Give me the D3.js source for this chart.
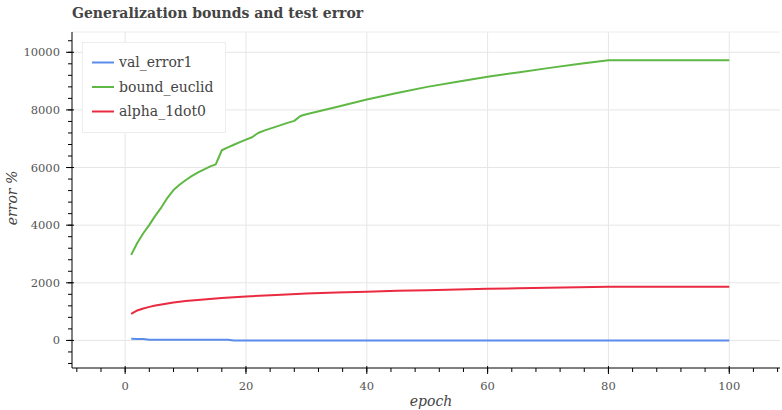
<!DOCTYPE html>
<html>
<head>
<meta charset="utf-8">
<script src="https://cdn.jsdelivr.net/npm/d3@7"></script>
<style>
  body { margin: 0; background: #fff; }
  svg { display: block; font-family: "DejaVu Serif", serif; }
</style>
</head>
<body>
<div id="paper"></div>
<script>
// data

const title = "Generalization bounds and test error"
const seriesNames = ["val_error1", "bound_euclid", "alpha_1dot0"]
const seriesColors = ["#5a8cec", "#5fb844", "#ea2a40"]

const valEpochs = [1, 2, 3, 4, 10, 17, 18, 100]
const valValues = [55, 52, 48, 25, 22, 20, 0, 0]

const boundEpochs = [1, 2, 3, 4, 5, 6, 7, 8, 9, 10, 11, 12, 13, 14, 15, 16, 17, 18, 19, 20,
  21, 22, 23, 24, 25, 26, 27, 28, 29, 30, 35, 40, 45, 50, 55, 60, 65, 70, 75, 80, 100]
const boundValues = [2970, 3380, 3720, 4010, 4330, 4620, 4950, 5220, 5400, 5560, 5700, 5820, 5930, 6030, 6110, 6600, 6700, 6790, 6880, 6970,
  7050, 7200, 7280, 7350, 7420, 7490, 7560, 7620, 7790, 7850, 8100, 8360, 8590, 8800, 8980, 9150, 9300, 9450, 9590, 9720, 9720]

const alphaEpochs = [1, 2, 3, 4, 5, 6, 7, 8, 9, 10, 12, 14, 16, 18, 20, 25, 30, 35, 40, 45, 50, 55, 60, 65, 70, 75, 80, 100]
const alphaValues = [925, 1040, 1110, 1165, 1210, 1250, 1285, 1315, 1340, 1365, 1405, 1440, 1470, 1500, 1525, 1580, 1625, 1660, 1690, 1720, 1745, 1770, 1790, 1810, 1830, 1845, 1860, 1860]

const xTicks = [0, 20, 40, 60, 80, 100]
const yTicks = [0, 2000, 4000, 6000, 8000, 10000]

// layout

const width = 782, height = 410
const mLeft = 72, mRight = 780, mTop = 32, mBottom = 368

const x = d3.scaleLinear().domain([-8.8, 108.4]).range([mLeft, mRight])
const y = d3.scaleLinear().domain([-957, 10704]).range([mBottom, mTop])

const svg = d3.select("#paper")
  .append("svg")
  .attr("id", "canvas")
  .attr("width", width)
  .attr("height", height)

// grid

svg.append("g")
  .selectAll("line")
  .data(xTicks)
  .join("line")
  .attr("x1", d => x(d)).attr("x2", d => x(d))
  .attr("y1", mTop).attr("y2", mBottom)
  .style("stroke", "#e6e6e6")

svg.append("g")
  .selectAll("line")
  .data(yTicks)
  .join("line")
  .attr("x1", mLeft).attr("x2", mRight)
  .attr("y1", d => y(d)).attr("y2", d => y(d))
  .style("stroke", "#e6e6e6")

// top border of the frame
svg.append("line")
  .attr("x1", mLeft).attr("x2", mRight)
  .attr("y1", mTop).attr("y2", mTop)
  .style("stroke", "#ececec")

// lines

svg.append("clipPath").attr("id", "frame")
  .append("rect").attr("x", mLeft).attr("y", mTop).attr("width", mRight - mLeft).attr("height", mBottom - mTop)

const line = d3.line().x(d => x(d[0])).y(d => y(d[1]))

const series = [
  d3.zip(valEpochs, valValues),
  d3.zip(boundEpochs, boundValues),
  d3.zip(alphaEpochs, alphaValues)
]

svg.append("g")
  .attr("clip-path", "url(#frame)")
  .selectAll("path")
  .data(series)
  .join("path")
  .attr("d", line)
  .style("fill", "none")
  .style("stroke", (d, i) => seriesColors[i])
  .style("stroke-width", 2)
  .style("stroke-linejoin", "round")

// axes

const xMinor = d3.range(-8, 109, 4)
const yMinor = d3.range(-800, 10700, 400)

const xAxis = svg.append("g").attr("transform", `translate(0,${mBottom})`)
xAxis.append("line").attr("x1", mLeft).attr("x2", mRight).style("stroke", "#000")
xAxis.selectAll(".minor").data(xMinor).join("line")
  .attr("x1", d => x(d)).attr("x2", d => x(d)).attr("y1", 0).attr("y2", 4)
  .style("stroke", "#000")
xAxis.selectAll(".major").data(xTicks).join("line")
  .attr("x1", d => x(d)).attr("x2", d => x(d)).attr("y1", -2).attr("y2", 6)
  .style("stroke", "#000")
xAxis.selectAll("text").data(xTicks).join("text")
  .attr("x", d => x(d)).attr("y", 22)
  .attr("text-anchor", "middle")
  .style("font-size", "11.5px").style("fill", "#555")
  .text(d => d)

const yAxis = svg.append("g").attr("transform", `translate(${mLeft},0)`)
yAxis.append("line").attr("y1", mTop).attr("y2", mBottom).style("stroke", "#000")
yAxis.selectAll(".minor").data(yMinor).join("line")
  .attr("y1", d => y(d)).attr("y2", d => y(d)).attr("x1", 0).attr("x2", -4)
  .style("stroke", "#000")
yAxis.selectAll(".major").data(yTicks).join("line")
  .attr("y1", d => y(d)).attr("y2", d => y(d)).attr("x1", 2).attr("x2", -6)
  .style("stroke", "#000")
yAxis.selectAll("text").data(yTicks).join("text")
  .attr("x", -12).attr("y", d => y(d))
  .attr("dy", "0.35em")
  .attr("text-anchor", "end")
  .style("font-size", "11.5px").style("fill", "#555")
  .text(d => d)

// axis titles

svg.append("text")
  .attr("x", 431).attr("y", 406)
  .attr("text-anchor", "middle")
  .style("font-size", "14px").style("font-style", "italic").style("fill", "#444")
  .text("epoch")

svg.append("text")
  .attr("transform", `translate(17,198) rotate(-90)`)
  .attr("text-anchor", "middle")
  .style("font-size", "14px").style("font-style", "italic").style("fill", "#444")
  .text("error %")

// title

svg.append("text")
  .attr("x", 72).attr("y", 18)
  .style("font-size", "14px").style("font-weight", "bold").style("fill", "#444")
  .text(title)

// legend

const legend = svg.append("g")
legend.append("rect")
  .attr("x", 82.5).attr("y", 42.5).attr("width", 143).attr("height", 90)
  .style("fill", "#fff").style("stroke", "#ededed")

const items = legend.selectAll("g.item").data(seriesNames).join("g")
  .attr("transform", (d, i) => `translate(0,${62.5 + i * 24.5})`)
items.append("line")
  .attr("x1", 92).attr("x2", 114)
  .style("stroke", (d, i) => seriesColors[i]).style("stroke-width", 2)
items.append("text")
  .attr("x", 119).attr("dy", "0.35em")
  .style("font-size", "14px").style("fill", "#444")
  .text(d => d)
</script>
</body>
</html>
